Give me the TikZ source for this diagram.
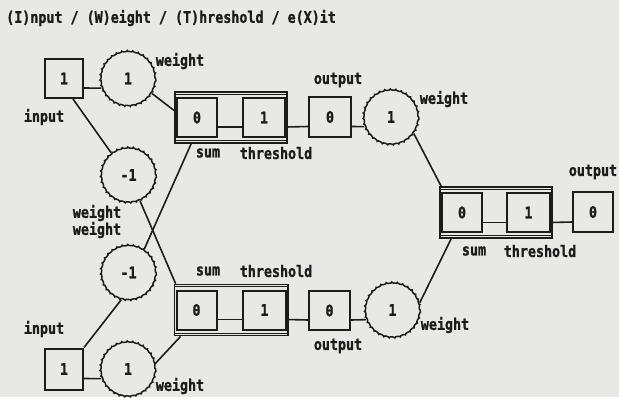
\documentclass[tikz,border=0pt]{standalone}
\usepackage{fontspec}
\newfontfamily\pixfam[FakeStretch=0.84, FakeBold=1.2]{DejaVu Sans Mono Bold}
\usetikzlibrary{decorations.pathmorphing,fit}
\definecolor{paper}{RGB}{232,232,229}
\definecolor{ink}{RGB}{28,28,28}
\newcommand{\pixfont}{\pixfam\fontsize{15.9}{16}\selectfont}
\tikzset{
  lbl/.style={font=\pixfont, text=ink, inner sep=0pt},
  cell/.style={draw=ink, line width=2pt, minimum width=40pt, minimum height=39pt,
    inner sep=0pt, font=\pixfont, text=ink},
  wt/.style={circle, draw=ink, line width=1.5pt, minimum size=55pt, inner sep=0pt,
    font=\pixfont, text=ink, decorate,
    decoration={bumps, segment length=11pt, amplitude=0.8pt}},
  grp/.style={draw=ink, line width=1.8pt, inner xsep=1pt, inner ysep=5pt},
  band/.style={draw=ink, line width=1.1pt},
  wire/.style={draw=ink, line width=1.6pt},
}
\begin{document}
\begin{tikzpicture}[x=1pt,y=-1pt]
\fill[paper] (0,0) rectangle (619,397);
\useasboundingbox (0,0) rectangle (619,397);

% title line
\node[lbl, anchor=west] (title) at (6,18) {(I)nput / (W)eight / (T)hreshold / e(X)it};

% inputs and first-layer weights
\node[cell, minimum width=38pt] (in1) at (64,78.5) {1};
\node[wt] (w1) at (128,78.5) {1};
\node[wt] (w2) at (128.5,175) {-1};
\node[wt] (w3) at (128.5,272.5) {-1};
\node[cell, minimum width=38pt, minimum height=41pt] (in2) at (64,369) {1};
\node[wt] (w4) at (128,369) {1};

% upper unit
\node[cell] (s1) at (197,117.5) {0};
\node[cell, minimum width=42pt] (t1) at (264,117.5) {1};
\node[cell, minimum width=42pt, minimum height=40pt] (o1) at (330,117) {0};
\node[wt] (w5) at (391,117) {1};
\node[grp, fit=(s1)(t1)] (g1) {};

% lower unit
\node[cell] (s2) at (196.5,310) {0};
\node[cell, minimum width=43pt] (t2) at (264.5,310) {1};
\node[cell, minimum width=41pt] (o2) at (329.5,310.5) {0};
\node[wt] (w6) at (392.5,310) {1};
\node[grp, fit=(s2)(t2)] (g2) {};

% output unit
\node[cell] (s3) at (462,212.5) {0};
\node[cell, minimum width=43pt] (t3) at (528.5,212.5) {1};
\node[cell, minimum height=40pt] (o3) at (593,212) {0};
\node[grp, fit=(s3)(t3)] (g3) {};

% double bands along the top and bottom of each unit
\foreach \g in {g1,g2,g3}{
  \draw[band] ([yshift=-3pt]\g.north west) -- ([yshift=-3pt]\g.north east);
  \draw[band] ([yshift=3pt]\g.south west) -- ([yshift=3pt]\g.south east);
}

% horizontal wires
\draw[wire] ([yshift=-9.5pt]in1.east) -- (w1.200);
\draw[wire] ([yshift=-9.5pt]in2.east) -- (w4.200);
\draw[wire] ([yshift=-9.5pt]s1.east) -- ([yshift=-9.5pt]t1.west);
\draw[wire] ([yshift=-9.5pt]t1.east) -- ([yshift=-9.5pt]o1.west);
\draw[wire] ([yshift=-9.5pt]o1.east) -- (w5.200);
\draw[wire] ([yshift=-9.5pt]s2.east) -- ([yshift=-9.5pt]t2.west);
\draw[wire] ([yshift=-9.5pt]t2.east) -- ([yshift=-9.5pt]o2.west);
\draw[wire] ([yshift=-9.5pt]o2.east) -- (w6.200);
\draw[wire] ([yshift=-10pt]s3.east) -- ([yshift=-10pt]t3.west);
\draw[wire] ([yshift=-10pt]t3.east) -- ([yshift=-10pt]o3.west);

% slanted wires
\draw[wire] ([xshift=9pt]in1.south) -- (w2.128);
\draw[wire] (w1.-32) -- ([yshift=7pt]g1.west);
\draw[wire] (w2.-66) -- ([xshift=2pt]g2.north west);
\draw[wire] (w3.56) -- ([xshift=17pt]g1.south west);
\draw[wire] (in2.north east) -- (w3.-105);
\draw[wire] (w4.12) -- ([xshift=7pt]g2.south west);
\draw[wire] (w5.-36) -- ([xshift=2pt]g3.north west);
\draw[wire] (w6.15) -- ([xshift=12pt]g3.south west);

% labels
\node[lbl] (lin1) at (44,117) {input};
\node[lbl] (lin2) at (44,329) {input};
\node[lbl] (lw1) at (180,61) {weight};
\node[lbl] (lw2) at (97,213) {weight};
\node[lbl] (lw3) at (97,230) {weight};
\node[lbl] (lw4) at (180,386) {weight};
\node[lbl] (lw5) at (444,99) {weight};
\node[lbl] (lw6) at (445,325) {weight};
\node[lbl] (ls1) at (208,153) {sum};
\node[lbl] (lt1) at (276,153) {threshold};
\node[lbl] (ls2) at (208,271) {sum};
\node[lbl] (lt2) at (276,271) {threshold};
\node[lbl] (ls3) at (474,251) {sum};
\node[lbl] (lt3) at (540,251) {threshold};
\node[lbl] (lo1) at (338,80) {output};
\node[lbl] (lo2) at (338,346) {output};
\node[lbl] (lo3) at (593,172) {output};
\end{tikzpicture}
\end{document}
